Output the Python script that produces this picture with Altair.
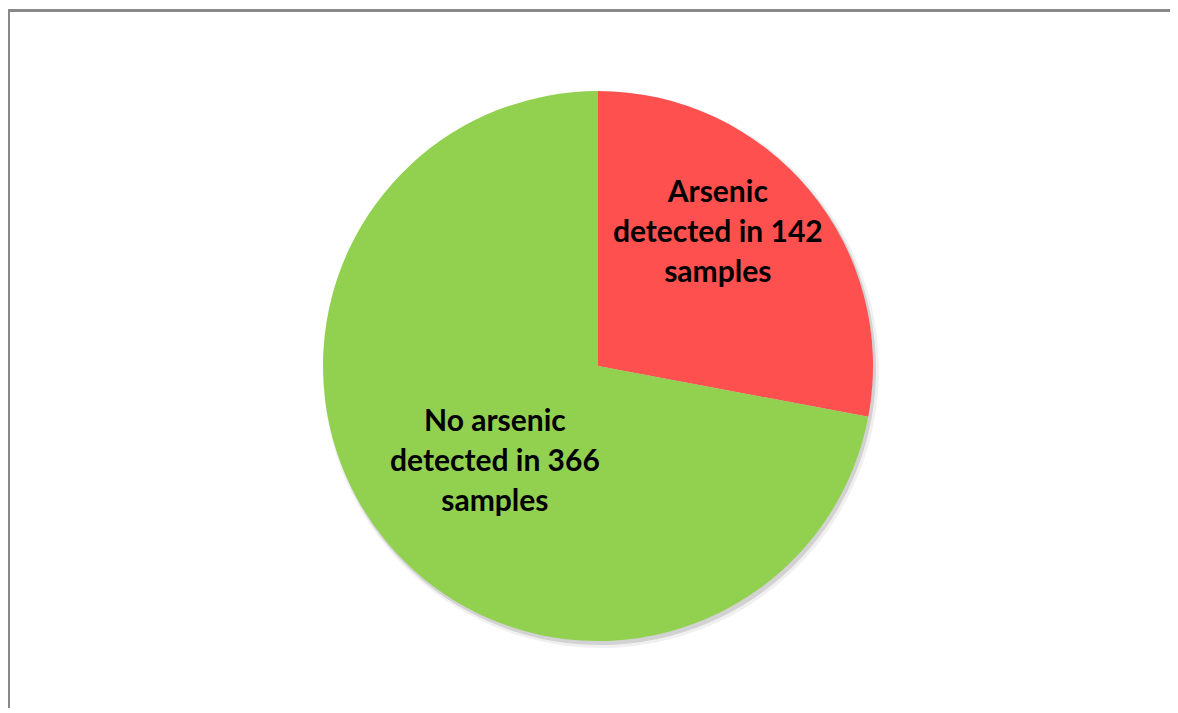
import altair as alt
import pandas as pd

categories = ["Arsenic detected", "No arsenic detected"]
counts = [142, 366]
labels = ["Arsenic\ndetected in 142\nsamples", "No arsenic\ndetected in 366\nsamples"]
slice_order = [0, 1]
colors = ["#FF5050", "#92D050"]

df = pd.DataFrame({
    "category": categories,
    "count": counts,
    "label": labels,
    "ord": slice_order,
})

W, H = 1162, 700
CX, CY, R = 590, 358, 275

base = alt.Chart(df)

shadow1 = base.mark_arc(outerRadius=R + 3, color="#000000", opacity=0.06).encode(
    theta=alt.Theta("count:Q", stack=True),
    order=alt.Order("ord:Q"),
    x=alt.value(CX + 3), y=alt.value(CY + 4),
)
shadow2 = base.mark_arc(outerRadius=R + 1, color="#000000", opacity=0.12).encode(
    theta=alt.Theta("count:Q", stack=True),
    order=alt.Order("ord:Q"),
    x=alt.value(CX + 2), y=alt.value(CY + 3),
)

pie = base.mark_arc(outerRadius=R).encode(
    theta=alt.Theta("count:Q", stack=True),
    color=alt.Color("category:N", scale=alt.Scale(domain=categories, range=colors), legend=None),
    order=alt.Order("ord:Q"),
    x=alt.value(CX), y=alt.value(CY),
)

def label_layer(cat, radius, offset):
    return (
        base.transform_joinaggregate(total="sum(count)")
        .transform_window(cum="sum(count)", sort=[alt.SortField("ord")], frame=[None, 0])
        .transform_calculate(mid="(datum.cum - datum.count/2) / datum.total * 2 * PI")
        .transform_filter(alt.datum.category == cat)
        .mark_text(
            radius=radius, thetaOffset=offset, font="Lato", fontWeight="bold",
            fontSize=30, lineBreak="\n", lineHeight=40, align="center",
            baseline="middle", color="#000000", dy=-40,
        )
        .encode(
            theta=alt.Theta("mid:Q", scale=None),
            text="label:N",
            x=alt.value(CX), y=alt.value(CY),
        )
    )

lab1 = label_layer(categories[0], 179, -0.145)
lab2 = label_layer(categories[1], 141, -0.058)

top_rule = base.mark_rule(color="#888888", strokeWidth=3).encode(
    x=alt.value(0), x2=alt.value(W), y=alt.value(2.5)
)
left_rule = base.mark_rule(color="#888888", strokeWidth=3).encode(
    x=alt.value(0.5), y=alt.value(1), y2=alt.value(H)
)

chart = alt.layer(shadow1, shadow2, pie, lab1, lab2, top_rule, left_rule).properties(
    width=W, height=H,
    autosize=alt.AutoSizeParams(type="none"),
    padding=0,
).configure_view(stroke=None)

chart.save("out.html", embed_options={"renderer": "svg", "actions": False})
